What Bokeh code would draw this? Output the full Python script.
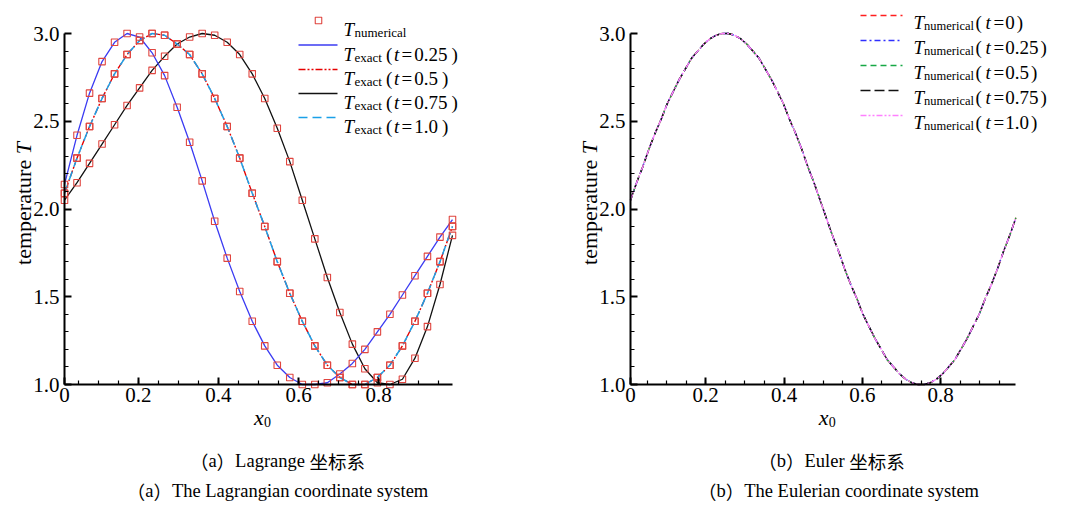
import math
from bokeh.plotting import figure
from bokeh.models import FixedTicker, Label, Range1d
from bokeh.layouts import row
from bokeh.embed import file_html
from bokeh.resources import INLINE

# ---------------- data ----------------
x_lagrange = [(i + 0.5) / 32 for i in range(32)]          # cell centres, 32 cells
T_lag_t025 = [2.14, 2.42, 2.66, 2.84, 2.95, 3.00, 2.98, 2.89, 2.76, 2.58, 2.38, 2.16,
              1.93, 1.72, 1.53, 1.36, 1.22, 1.11, 1.04, 1.00, 1.00, 1.01, 1.06, 1.12,
              1.20, 1.30, 1.40, 1.51, 1.62, 1.73, 1.84, 1.94]
T_lag_t050 = [2.09, 2.29, 2.47, 2.63, 2.77, 2.88, 2.96, 3.00, 2.99, 2.94, 2.88, 2.77,
              2.63, 2.47, 2.29, 2.09, 1.90, 1.70, 1.52, 1.36, 1.22, 1.11, 1.04, 1.00,
              1.00, 1.04, 1.11, 1.22, 1.36, 1.52, 1.70, 1.90]
T_lag_t075 = [2.05, 2.15, 2.26, 2.37, 2.48, 2.59, 2.69, 2.79, 2.87, 2.94, 2.98, 3.00,
              2.99, 2.95, 2.88, 2.77, 2.63, 2.46, 2.27, 2.05, 1.83, 1.61, 1.41, 1.23,
              1.09, 1.01, 1.00, 1.03, 1.15, 1.33, 1.57, 1.85]
T_lag_t100 = [2.09, 2.29, 2.47, 2.63, 2.77, 2.88, 2.96, 3.00, 2.99, 2.94, 2.88, 2.77,
              2.63, 2.47, 2.29, 2.09, 1.90, 1.70, 1.52, 1.36, 1.22, 1.11, 1.04, 1.00,
              1.00, 1.04, 1.11, 1.22, 1.36, 1.52, 1.70, 1.90]

x_euler = [(i + 0.5) / 64 for i in range(64)]              # cell centres, 64 cells
T_euler = [2.05, 2.15, 2.24, 2.34, 2.43, 2.51, 2.60, 2.67, 2.74, 2.80, 2.86, 2.90,
           2.94, 2.97, 2.99, 3.00, 3.00, 2.99, 2.97, 2.94, 2.90, 2.86, 2.80, 2.74,
           2.67, 2.60, 2.51, 2.43, 2.34, 2.24, 2.15, 2.05, 1.95, 1.85, 1.76, 1.66,
           1.57, 1.49, 1.40, 1.33, 1.26, 1.20, 1.14, 1.10, 1.06, 1.03, 1.01, 1.00,
           1.00, 1.01, 1.03, 1.06, 1.10, 1.14, 1.20, 1.26, 1.33, 1.40, 1.49, 1.57,
           1.66, 1.76, 1.85, 1.95]

lag_times = ["0.25", "0.5", "0.75", "1.0"]
eul_times = ["0", "0.25", "0.5", "0.75", "1.0"]
x_tick_values = [0.2, 0.4, 0.6, 0.8]
y_tick_values = [1.0, 1.5, 2.0, 2.5, 3.0]
y_tick_labels = ["1.0", "1.5", "2.0", "2.5", "3.0"]
captions_left = ["（a）Lagrange 坐标系", "（a）The Lagrangian coordinate system"]
captions_right = ["（b）Euler 坐标系", "（b）The Eulerian coordinate system"]

# ---------------- styles ----------------
SERIF = "Liberation Serif"
CJK = "Noto Sans CJK SC"
MARK = "#e0453f"

# Times / Liberation Serif advance widths (em)
W_REG = {'a': .444, 'b': .5, 'c': .444, 'd': .5, 'e': .444, 'g': .5, 'h': .5, 'i': .278,
         'l': .278, 'm': .778, 'n': .5, 'o': .5, 'r': .333, 's': .389, 't': .278,
         'u': .5, 'x': .5, 'y': .5, 'T': .611, 'L': .611, 'E': .611,
         '(': .333, ')': .333, '=': .564, '.': .25, ' ': .25}
W_IT = {'T': .556, 't': .278, 'x': .444}


def tw(s, size, italic=False):
    tab = W_IT if italic else W_REG
    return sum(tab.get(c, .5) for c in s) * size


def is_cjk(c):
    return ord(c) >= 0x2E80


def runs(s):
    out = []
    for c in s:
        if out and is_cjk(out[-1][0][-1]) == is_cjk(c):
            out[-1][0] += c
        else:
            out.append([c, is_cjk(c)])
    return out


FIG_H = 505
AXIS_Y = 384        # page px of y = 1.0
YSCALE = 175.5      # px per unit temperature


def make_panel(fig_left, fig_w, axis_x, x_first, xscale):
    """Frame covers the whole figure; axes are pinned at data locations."""
    def X(px):
        return x_first + (px - axis_x) / xscale

    def Y(py):
        return 1.0 + (AXIS_Y - py) / YSCALE

    p = figure(width=fig_w, height=FIG_H, output_backend="svg", toolbar_location=None,
               x_range=Range1d(X(fig_left), X(fig_left + fig_w)),
               y_range=Range1d(Y(FIG_H), Y(0)),
               min_border_left=0, min_border_right=0, min_border_top=0,
               min_border_bottom=0)
    p.outline_line_color = None
    p.xgrid.visible = False
    p.ygrid.visible = False
    p.background_fill_color = "white"
    p.border_fill_color = "white"

    x_last = 1.0 - x_first
    xa = p.xaxis[0]
    ya = p.yaxis[0]
    xa.fixed_location = 1.0
    ya.fixed_location = x_first
    xa.ticker = FixedTicker(ticks=[x_first] + x_tick_values,
                            minor_ticks=[k * 0.05 for k in range(1, 20)])
    ya.ticker = FixedTicker(ticks=y_tick_values,
                            minor_ticks=[1.0 + k * 0.1 for k in range(1, 20)])
    xa.bounds = (x_first, x_last)
    ya.bounds = (1.0, 3.0)
    ov = {x_first: "0"}
    for v in x_tick_values:
        ov[v] = "%.1f" % v
    xa.major_label_overrides = ov
    ya.major_label_overrides = dict(zip(y_tick_values, y_tick_labels))
    for ax in (xa, ya):
        ax.axis_line_width = 2
        ax.axis_line_color = "black"
        ax.major_tick_in = 7
        ax.major_tick_out = 0
        ax.minor_tick_in = 4
        ax.minor_tick_out = 0
        ax.major_tick_line_width = 2
        ax.minor_tick_line_width = 1.2
        ax.major_tick_line_color = "black"
        ax.minor_tick_line_color = "black"
        ax.major_label_text_font = SERIF
        ax.major_label_text_font_size = "21px"
        ax.major_label_text_color = "black"
    xa.major_label_standoff = 3
    ya.major_label_standoff = 5

    def text(px, py, s, size, italic=False, align="left", baseline="alphabetic",
             angle=0.0, font=SERIF):
        p.add_layout(Label(x=X(px), y=Y(py), text=s, text_font=font,
                           text_font_size="%.1fpx" % size,
                           text_font_style="italic" if italic else "normal",
                           text_align=align, text_baseline=baseline, angle=angle,
                           text_color="black"))

    def caption(cx, cy, s, size):
        parts = runs(s)
        widths = [len(t) * size if cj else tw(t, size) for t, cj in parts]
        x = cx - sum(widths) / 2
        for (t, cj), w in zip(parts, widths):
            text(x, cy, t, size, baseline="middle", font=CJK if cj else SERIF)
            x += w

    # axis titles
    yl_base = axis_x - 41
    yl_size = 22
    total = tw("temperature ", yl_size) + tw("T", yl_size, True)
    start = 203 + total / 2
    text(yl_base, start, "temperature ", yl_size, angle=math.pi / 2)
    text(yl_base, start - tw("temperature ", yl_size), "T", yl_size, italic=True,
         angle=math.pi / 2)
    x_mid = axis_x + (x_last - x_first) * xscale / 2
    text(x_mid - 4.5, 417, "x", 22, italic=True)
    text(x_mid + 5.5, 421.5, "0", 14)
    return p, X, Y, text, caption


# ---------------- left panel: Lagrangian ----------------
p1, X1, Y1, text1, caption1 = make_panel(0, 534, 64, 1 / 64, 400.5)
lag_series = [T_lag_t025, T_lag_t050, T_lag_t075, T_lag_t100]
lag_styles = [dict(color="#3b3bf2", line_width=1.3),
              dict(color="#e60000", line_width=1.4, line_dash="7 2 2 2 2 2"),
              dict(color="#111111", line_width=1.3),
              dict(color="#1aa0e8", line_width=1.5, line_dash="9 5")]
draw_order = [2, 0, 1, 3]
for k in draw_order:
    p1.line(x_lagrange, lag_series[k], **lag_styles[k])
for T in lag_series:
    p1.scatter(x_lagrange, T, marker="square", size=6.5, fill_color=None,
               line_color=MARK, line_width=1.1)

# legend (left)
rows_l = [20, 44.5, 69, 93, 117]
p1.scatter([X1(318)], [Y1(rows_l[0])], marker="square", size=6.5, fill_color=None,
           line_color=MARK, line_width=1.1)
bl = rows_l[0] + 9
text1(343, bl, "T", 19, italic=True)
text1(354, bl + 3, "numerical", 13)
for k, t in enumerate(lag_times):
    ry = rows_l[k + 1]
    p1.line([X1(298), X1(337)], [Y1(ry), Y1(ry)], **lag_styles[k])
    b = ry + 9
    text1(343, b, "T", 19, italic=True)
    sx = 354
    text1(sx, b + 3, "exact", 13)
    px_ = sx + tw("exact", 13) + 4
    text1(px_, b, "(", 19)
    text1(px_ + 8, b, "t", 19, italic=True)
    ex = px_ + 15.5
    text1(ex, b, "=", 19)
    vx = ex + tw("=", 19) + 2
    text1(vx, b, t, 19)
    text1(vx + tw(t, 19) + 4, b, ")", 19)

# captions (left)
caption1(277, 460, captions_left[0], 18.5)
caption1(277, 490, captions_left[1], 18.5)

# ---------------- right panel: Eulerian ----------------
p2, X2, Y2, text2, caption2 = make_panel(534, 535, 630, 1 / 128, 391.5)
eul_styles = [dict(color="#ff1f1f", line_width=1.4, line_dash="6 4"),
              dict(color="#2f2fff", line_width=1.4, line_dash="6 3 2 3"),
              dict(color="#16a845", line_width=1.4, line_dash="6 4"),
              dict(color="#111111", line_width=1.4, line_dash="10 4"),
              dict(color="#ff80ff", line_width=1.4, line_dash="6 2 2 2 2 2")]
for st in eul_styles:
    p2.line(x_euler, T_euler, **st)

rows_r = [15, 40, 65, 90, 115]
for k, t in enumerate(eul_times):
    ry = rows_r[k]
    p2.line([X2(860), X2(902)], [Y2(ry), Y2(ry)], **eul_styles[k])
    b = ry + 7
    text2(913, b, "T", 19, italic=True)
    sx = 923.5
    text2(sx, b + 3, "numerical", 12.5)
    px_ = sx + tw("numerical", 12.5) + 1.5
    text2(px_, b, "(", 19)
    text2(px_ + 10, b, "t", 19, italic=True)
    ex = px_ + 18
    text2(ex, b, "=", 19)
    vx = ex + tw("=", 19) + 1
    text2(vx, b, t, 19)
    text2(vx + tw(t, 19) + 2, b, ")", 19)

caption2(831, 460, captions_right[0], 18.5)
caption2(838, 490, captions_right[1], 18.5)

layout = row(p1, p2)
open("out.html", "w").write(file_html(layout, INLINE))
